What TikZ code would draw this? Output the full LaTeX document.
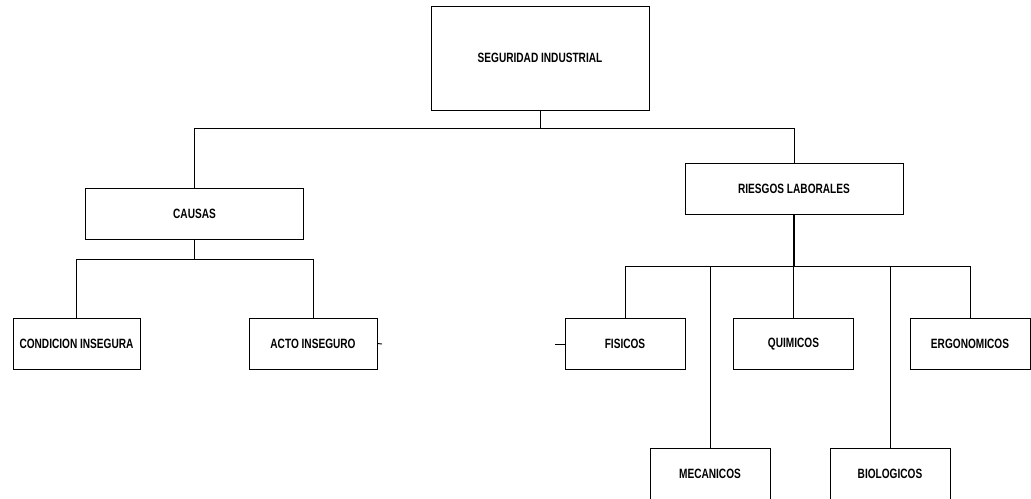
\documentclass[tikz,border=0pt]{standalone}
\usepackage{fontspec}
\setmainfont[FakeStretch=0.75]{Liberation Sans}
\usetikzlibrary{positioning}

\begin{document}
\begin{tikzpicture}[
  x=0.03cm, y=-0.03cm,
  box/.style={draw, line width=0.8pt, inner sep=1pt, align=center,
    font=\bfseries\fontsize{11.5}{13}\selectfont},
  bigbox/.style={box, minimum width=6.54cm, minimum height=1.53cm},
  smallbox/.style={box, minimum width=3.6cm, minimum height=1.53cm},
  line/.style={line width=0.8pt}
]
\useasboundingbox (0,0) rectangle (1031,498);

% top level
\node[box, minimum width=6.54cm, minimum height=3.12cm] (seg) at (540,58) {SEGURIDAD INDUSTRIAL};
\node[bigbox] (causas) at (194.5,214) {CAUSAS};
\node[bigbox] (riesgos) at (794,188.5) {RIESGOS LABORALES};

% causas
\node[smallbox, minimum width=3.81cm] (condicion) at (76.5,343.5) {CONDICION INSEGURA};
\node[smallbox, minimum width=3.84cm] (acto) at (313,343.5) {ACTO INSEGURO};

% riesgos
\node[smallbox] (fisicos) at (625,344) {FISICOS};
\node[smallbox] (quimicos) at (793.5,344) {QUIMICOS};
\node[smallbox] (ergonomicos) at (970,344) {ERGONOMICOS};
\node[smallbox] (mecanicos) at (710,473.5) {MECANICOS};
\node[smallbox] (biologicos) at (890,473.5) {BIOLOGICOS};

\coordinate (topbar) at (540,128);
\coordinate (causasbar) at (194.5,259);
\coordinate (riesgosbar) at (794,266);
\coordinate (actoend) at (382,344);
\coordinate (fisicosend) at (555,344);

\draw[line] (seg.south) -- (topbar);
\draw[line] (topbar) -| (causas.north);
\draw[line] (topbar) -| (riesgos.north);

\draw[line] (causas.south) -- (causasbar);
\draw[line] (causasbar) -| (condicion.north);
\draw[line] (causasbar) -| (acto.north);

\draw[line width=1.3pt] (riesgos.south) -- (riesgosbar);
\draw[line] (riesgosbar) -| (fisicos.north);
\draw[line] (riesgosbar) -| (quimicos.north);
\draw[line] (riesgosbar) -| (ergonomicos.north);
\draw[line] (riesgosbar) -| (mecanicos.north);
\draw[line] (riesgosbar) -| (biologicos.north);

\draw[line] (acto.east) -- (actoend);
\draw[line] (fisicos.west) -- (fisicosend);

\end{tikzpicture}
\end{document}
